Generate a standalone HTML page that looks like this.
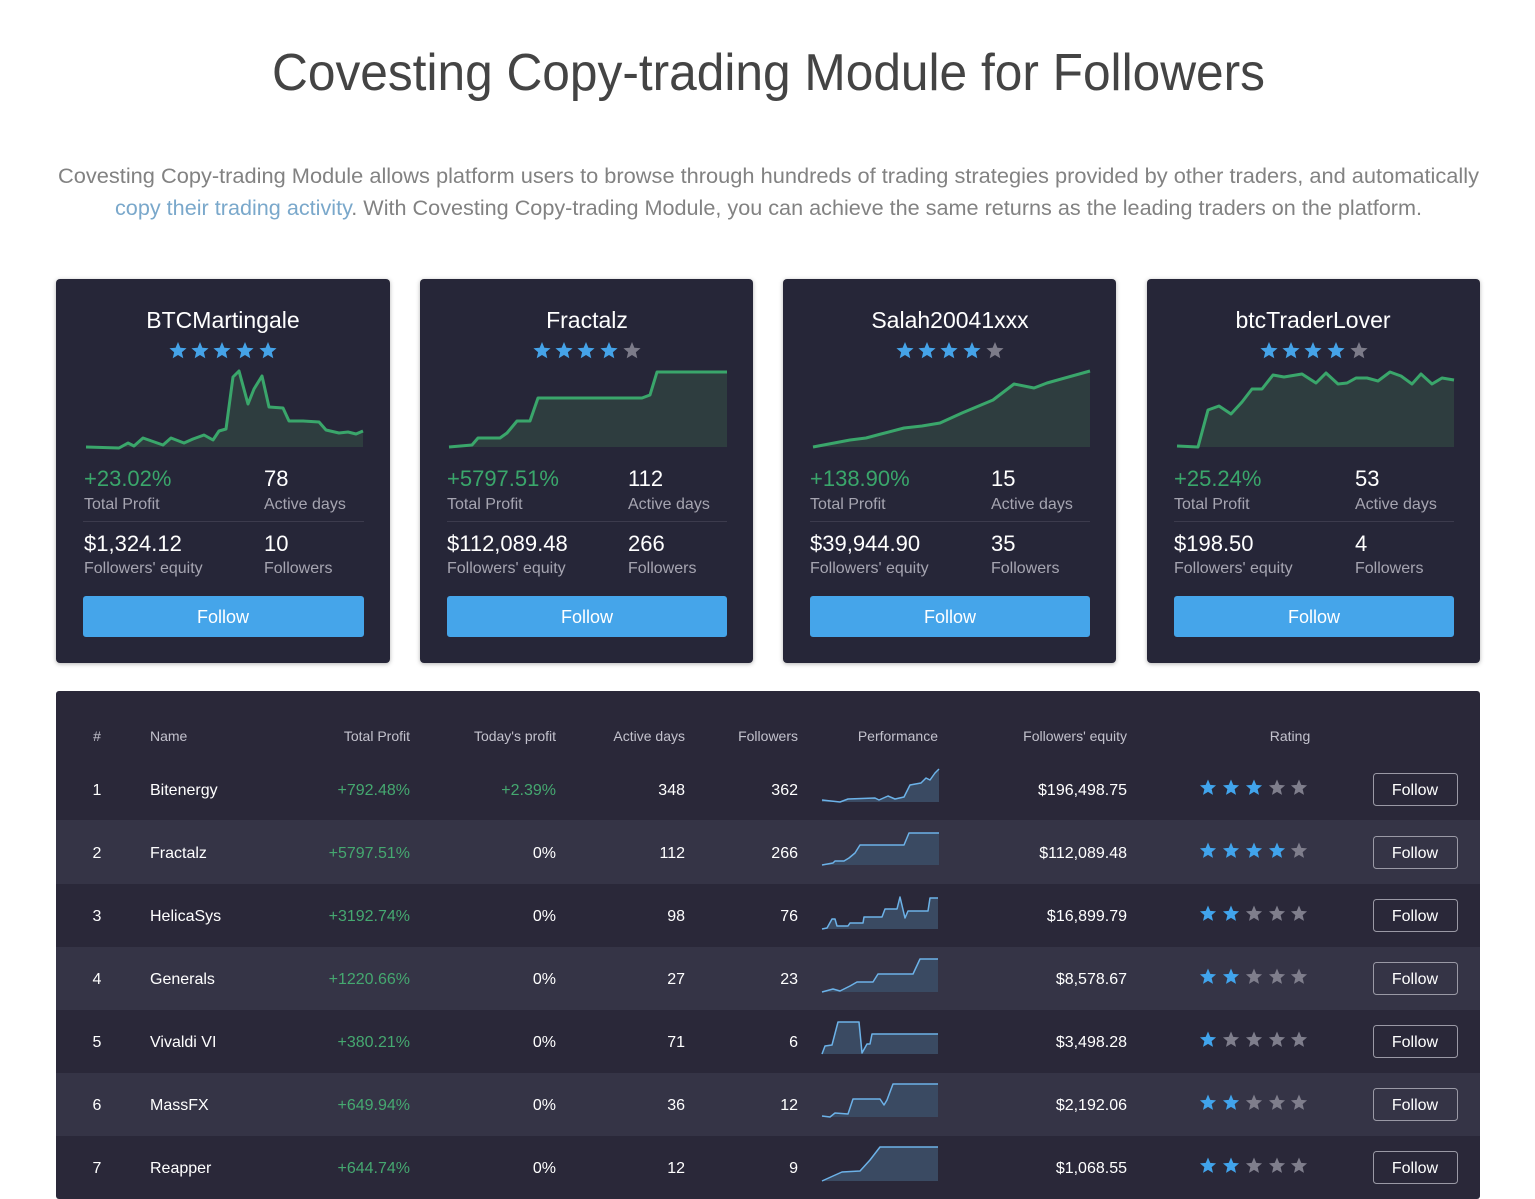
<!DOCTYPE html>
<html>
<head>
<meta charset="utf-8">
<style>
html,body{margin:0;padding:0;background:#fff;}
svg{display:block;}
text{font-family:"Liberation Sans",sans-serif;}
</style>
</head>
<body>
<svg width="1535" height="1199" viewBox="0 0 1535 1199" xmlns="http://www.w3.org/2000/svg">
<defs>
<polygon id="st" points="0,-1 0.2645,-0.364 0.951,-0.309 0.428,0.139 0.588,0.809 0,0.45 -0.588,0.809 -0.428,0.139 -0.951,-0.309 -0.2645,-0.364"/>
<filter id="sh" x="-5%" y="-5%" width="110%" height="110%">
<feDropShadow dx="0" dy="1" stdDeviation="2" flood-color="#000" flood-opacity="0.3"/>
</filter>
</defs>
<rect width="1535" height="1199" fill="#ffffff"/>

<!-- Title -->
<text x="272" y="90" font-size="52" textLength="993" lengthAdjust="spacingAndGlyphs" fill="#444444">Covesting Copy-trading Module for Followers</text>
<text x="58" y="183" font-size="21" textLength="1421" lengthAdjust="spacingAndGlyphs" fill="#828282">Covesting Copy-trading Module allows platform users to browse through hundreds of trading strategies provided by other traders, and automatically</text>
<text x="115" y="215" font-size="21" textLength="1307" lengthAdjust="spacingAndGlyphs" fill="#828282"><tspan fill="#7aa8cb">copy their trading activity</tspan>. With Covesting Copy-trading Module, you can achieve the same returns as the leading traders on the platform.</text>

<!-- Cards -->
<g filter="url(#sh)">
<rect x="56" y="279" width="334" height="384" rx="4" fill="#282737"/>
<rect x="420" y="279" width="333" height="384" rx="4" fill="#282737"/>
<rect x="783" y="279" width="333" height="384" rx="4" fill="#282737"/>
<rect x="1147" y="279" width="333" height="384" rx="4" fill="#282737"/>
</g>

<!-- Card names -->
<g font-size="23" fill="#ffffff" text-anchor="middle">
<text x="223" y="328">BTCMartingale</text>
<text x="587" y="328">Fractalz</text>
<text x="950" y="328">Salah20041xxx</text>
<text x="1313" y="328">btcTraderLover</text>
</g>

<!-- Card stars -->
<g>
<use href="#st" transform="translate(178,351) scale(9)" fill="#45a3e8"/>
<use href="#st" transform="translate(200,351) scale(9)" fill="#45a3e8"/>
<use href="#st" transform="translate(222,351) scale(9)" fill="#45a3e8"/>
<use href="#st" transform="translate(245,351) scale(9)" fill="#45a3e8"/>
<use href="#st" transform="translate(268,351) scale(9)" fill="#45a3e8"/>

<use href="#st" transform="translate(542,351) scale(9)" fill="#45a3e8"/>
<use href="#st" transform="translate(564,351) scale(9)" fill="#45a3e8"/>
<use href="#st" transform="translate(586,351) scale(9)" fill="#45a3e8"/>
<use href="#st" transform="translate(609,351) scale(9)" fill="#45a3e8"/>
<use href="#st" transform="translate(632,351) scale(9)" fill="#7c7b89"/>

<use href="#st" transform="translate(905,351) scale(9)" fill="#45a3e8"/>
<use href="#st" transform="translate(927,351) scale(9)" fill="#45a3e8"/>
<use href="#st" transform="translate(949,351) scale(9)" fill="#45a3e8"/>
<use href="#st" transform="translate(972,351) scale(9)" fill="#45a3e8"/>
<use href="#st" transform="translate(995,351) scale(9)" fill="#7c7b89"/>

<use href="#st" transform="translate(1269,351) scale(9)" fill="#45a3e8"/>
<use href="#st" transform="translate(1291,351) scale(9)" fill="#45a3e8"/>
<use href="#st" transform="translate(1313,351) scale(9)" fill="#45a3e8"/>
<use href="#st" transform="translate(1336,351) scale(9)" fill="#45a3e8"/>
<use href="#st" transform="translate(1359,351) scale(9)" fill="#7c7b89"/>
</g>

<!-- Card charts -->
<g fill="#2e3d3f" stroke="none">
<path d="M86,447 L119,448 L128,443 L134,446 L143,438 L163,445 L171,438 L184,443 L193,439 L204,435 L213,440 L219,431 L226,429 L233,377 L239,371 L248,404 L254,389 L262,376 L269,407 L283,408 L289,421 L303,421 L319,422 L326,430 L339,433 L348,432 L356,434 L363,431 L363,447 Z"/>
<path d="M449,447 L472,445 L478,438 L500,438 L507,433 L517,421 L530,421 L538,398 L642,398 L650,395 L657,372 L727,372 L727,447 Z"/>
<path d="M813,447 L850,440 L866,438 L881,434 L904,428 L922,426 L940,423 L962,413 L993,400 L1014,384 L1034,388 L1047,383 L1090,371 L1090,447 Z"/>
<path d="M1177,446 L1198,447 L1208,410 L1219,406 L1231,414 L1242,402 L1252,389 L1262,389 L1273,375 L1284,377 L1302,374 L1316,383 L1326,373 L1338,384 L1347,383 L1356,378 L1367,378 L1378,381 L1390,372 L1401,376 L1412,384 L1421,374 L1432,384 L1442,378 L1454,380 L1454,447 L1177,447 Z"/>
</g>
<g fill="none" stroke="#3aa66b" stroke-width="3" stroke-linejoin="round">
<path d="M86,447 L119,448 L128,443 L134,446 L143,438 L163,445 L171,438 L184,443 L193,439 L204,435 L213,440 L219,431 L226,429 L233,377 L239,371 L248,404 L254,389 L262,376 L269,407 L283,408 L289,421 L303,421 L319,422 L326,430 L339,433 L348,432 L356,434 L363,431"/>
<path d="M449,447 L472,445 L478,438 L500,438 L507,433 L517,421 L530,421 L538,398 L642,398 L650,395 L657,372 L727,372"/>
<path d="M813,447 L850,440 L866,438 L881,434 L904,428 L922,426 L940,423 L962,413 L993,400 L1014,384 L1034,388 L1047,383 L1090,371"/>
<path d="M1177,446 L1198,447 L1208,410 L1219,406 L1231,414 L1242,402 L1252,389 L1262,389 L1273,375 L1284,377 L1302,374 L1316,383 L1326,373 L1338,384 L1347,383 L1356,378 L1367,378 L1378,381 L1390,372 L1401,376 L1412,384 L1421,374 L1432,384 L1442,378 L1454,380"/>
</g>

<!-- Card stats -->
<g font-size="22">
<text x="84" y="486" fill="#3aa66b">+23.02%</text>
<text x="264" y="486" fill="#ffffff">78</text>
<text x="84" y="551" fill="#ffffff">$1,324.12</text>
<text x="264" y="551" fill="#ffffff">10</text>

<text x="447" y="486" fill="#3aa66b">+5797.51%</text>
<text x="628" y="486" fill="#ffffff">112</text>
<text x="447" y="551" fill="#ffffff">$112,089.48</text>
<text x="628" y="551" fill="#ffffff">266</text>

<text x="810" y="486" fill="#3aa66b">+138.90%</text>
<text x="991" y="486" fill="#ffffff">15</text>
<text x="810" y="551" fill="#ffffff">$39,944.90</text>
<text x="991" y="551" fill="#ffffff">35</text>

<text x="1174" y="486" fill="#3aa66b">+25.24%</text>
<text x="1355" y="486" fill="#ffffff">53</text>
<text x="1174" y="551" fill="#ffffff">$198.50</text>
<text x="1355" y="551" fill="#ffffff">4</text>
</g>
<g font-size="16" fill="#a6a5b1">
<text x="84" y="509">Total Profit</text>
<text x="264" y="509">Active days</text>
<text x="84" y="573">Followers' equity</text>
<text x="264" y="573">Followers</text>

<text x="447" y="509">Total Profit</text>
<text x="628" y="509">Active days</text>
<text x="447" y="573">Followers' equity</text>
<text x="628" y="573">Followers</text>

<text x="810" y="509">Total Profit</text>
<text x="991" y="509">Active days</text>
<text x="810" y="573">Followers' equity</text>
<text x="991" y="573">Followers</text>

<text x="1174" y="509">Total Profit</text>
<text x="1355" y="509">Active days</text>
<text x="1174" y="573">Followers' equity</text>
<text x="1355" y="573">Followers</text>
</g>
<g fill="#3c3b4d">
<rect x="83" y="521" width="281" height="1"/>
<rect x="447" y="521" width="280" height="1"/>
<rect x="810" y="521" width="280" height="1"/>
<rect x="1174" y="521" width="280" height="1"/>
</g>
<!-- Card buttons -->
<g fill="#45a5ea">
<rect x="83" y="596" width="281" height="41" rx="3"/>
<rect x="447" y="596" width="280" height="41" rx="3"/>
<rect x="810" y="596" width="280" height="41" rx="3"/>
<rect x="1174" y="596" width="280" height="41" rx="3"/>
</g>
<g font-size="18" fill="#ffffff" text-anchor="middle">
<text x="223" y="623">Follow</text>
<text x="587" y="623">Follow</text>
<text x="950" y="623">Follow</text>
<text x="1314" y="623">Follow</text>
</g>

<!-- Table -->
<rect x="56" y="691" width="1424" height="508" rx="3" fill="#2a2839"/>
<rect x="56" y="820" width="1424" height="64" fill="#353446"/>
<rect x="56" y="947" width="1424" height="63" fill="#353446"/>
<rect x="56" y="1073" width="1424" height="63" fill="#353446"/>

<g font-size="14" fill="#c3c2cd">
<text x="97" y="741" text-anchor="middle">#</text>
<text x="150" y="741">Name</text>
<text x="410" y="741" text-anchor="end">Total Profit</text>
<text x="556" y="741" text-anchor="end">Today's profit</text>
<text x="685" y="741" text-anchor="end">Active days</text>
<text x="798" y="741" text-anchor="end">Followers</text>
<text x="938" y="741" text-anchor="end">Performance</text>
<text x="1127" y="741" text-anchor="end">Followers' equity</text>
<text x="1290" y="741" text-anchor="middle">Rating</text>
</g>

<!-- Sparklines -->
<g fill="#3a4a62" stroke="none">
<path d="M822,800 L840,802 L848,799 L875,798 L879,800 L888,796 L895,799 L904,797 L910,785 L921,783 L926,778 L930,780 L935,773 L939,769 L939,802 L822,802 Z"/>
<path d="M822,865 L833,863 L835,861 L844,861 L849,858 L855,853 L860,845 L904,845 L909,833 L939,833 L939,865 Z"/>
<path d="M822,929 L827,928 L832,919 L835,919 L837,926 L848,926 L850,923 L863,923 L864,917 L882,917 L885,909 L897,909 L900,897 L905,918 L908,911 L928,911 L930,898 L938,898 L938,929 Z"/>
<path d="M822,992 L833,989 L840,991 L850,986 L857,982 L873,982 L878,974 L913,974 L920,959 L938,959 L938,992 Z"/>
<path d="M822,1054 L825,1046 L832,1045 L838,1022 L859,1022 L862,1053 L867,1044 L870,1044 L872,1034 L938,1034 L938,1054 Z"/>
<path d="M822,1116 L830,1117 L835,1113 L848,1114 L853,1099 L880,1099 L884,1105 L887,1100 L893,1084 L938,1084 L938,1117 L822,1117 Z"/>
<path d="M822,1181 L833,1176 L842,1172 L860,1171 L870,1160 L880,1147 L938,1147 L938,1181 Z"/>
</g>
<g fill="none" stroke="#6cb2e8" stroke-width="1.5" stroke-linejoin="round">
<path d="M822,800 L840,802 L848,799 L875,798 L879,800 L888,796 L895,799 L904,797 L910,785 L921,783 L926,778 L930,780 L935,773 L939,769"/>
<path d="M822,865 L833,863 L835,861 L844,861 L849,858 L855,853 L860,845 L904,845 L909,833 L939,833"/>
<path d="M822,929 L827,928 L832,919 L835,919 L837,926 L848,926 L850,923 L863,923 L864,917 L882,917 L885,909 L897,909 L900,897 L905,918 L908,911 L928,911 L930,898 L938,898"/>
<path d="M822,992 L833,989 L840,991 L850,986 L857,982 L873,982 L878,974 L913,974 L920,959 L938,959"/>
<path d="M822,1054 L825,1046 L832,1045 L838,1022 L859,1022 L862,1053 L867,1044 L870,1044 L872,1034 L938,1034"/>
<path d="M822,1116 L830,1117 L835,1113 L848,1114 L853,1099 L880,1099 L884,1105 L887,1100 L893,1084 L938,1084"/>
<path d="M822,1181 L833,1176 L842,1172 L860,1171 L870,1160 L880,1147 L938,1147"/>
</g>

<!-- Rows text -->
<g font-size="16" fill="#ffffff">
<text x="97" y="795" text-anchor="middle">1</text>
<text x="150" y="795">Bitenergy</text>
<text x="410" y="795" text-anchor="end" fill="#45a870">+792.48%</text>
<text x="556" y="795" text-anchor="end" fill="#45a870">+2.39%</text>
<text x="685" y="795" text-anchor="end">348</text>
<text x="798" y="795" text-anchor="end">362</text>
<text x="1127" y="795" text-anchor="end">$196,498.75</text>

<text x="97" y="858" text-anchor="middle">2</text>
<text x="150" y="858">Fractalz</text>
<text x="410" y="858" text-anchor="end" fill="#45a870">+5797.51%</text>
<text x="556" y="858" text-anchor="end">0%</text>
<text x="685" y="858" text-anchor="end">112</text>
<text x="798" y="858" text-anchor="end">266</text>
<text x="1127" y="858" text-anchor="end">$112,089.48</text>

<text x="97" y="921" text-anchor="middle">3</text>
<text x="150" y="921">HelicaSys</text>
<text x="410" y="921" text-anchor="end" fill="#45a870">+3192.74%</text>
<text x="556" y="921" text-anchor="end">0%</text>
<text x="685" y="921" text-anchor="end">98</text>
<text x="798" y="921" text-anchor="end">76</text>
<text x="1127" y="921" text-anchor="end">$16,899.79</text>

<text x="97" y="984" text-anchor="middle">4</text>
<text x="150" y="984">Generals</text>
<text x="410" y="984" text-anchor="end" fill="#45a870">+1220.66%</text>
<text x="556" y="984" text-anchor="end">0%</text>
<text x="685" y="984" text-anchor="end">27</text>
<text x="798" y="984" text-anchor="end">23</text>
<text x="1127" y="984" text-anchor="end">$8,578.67</text>

<text x="97" y="1047" text-anchor="middle">5</text>
<text x="150" y="1047">Vivaldi VI</text>
<text x="410" y="1047" text-anchor="end" fill="#45a870">+380.21%</text>
<text x="556" y="1047" text-anchor="end">0%</text>
<text x="685" y="1047" text-anchor="end">71</text>
<text x="798" y="1047" text-anchor="end">6</text>
<text x="1127" y="1047" text-anchor="end">$3,498.28</text>

<text x="97" y="1110" text-anchor="middle">6</text>
<text x="150" y="1110">MassFX</text>
<text x="410" y="1110" text-anchor="end" fill="#45a870">+649.94%</text>
<text x="556" y="1110" text-anchor="end">0%</text>
<text x="685" y="1110" text-anchor="end">36</text>
<text x="798" y="1110" text-anchor="end">12</text>
<text x="1127" y="1110" text-anchor="end">$2,192.06</text>

<text x="97" y="1173" text-anchor="middle">7</text>
<text x="150" y="1173">Reapper</text>
<text x="410" y="1173" text-anchor="end" fill="#45a870">+644.74%</text>
<text x="556" y="1173" text-anchor="end">0%</text>
<text x="685" y="1173" text-anchor="end">12</text>
<text x="798" y="1173" text-anchor="end">9</text>
<text x="1127" y="1173" text-anchor="end">$1,068.55</text>
</g>

<!-- Table stars -->
<g>
<use href="#st" transform="translate(1208,788) scale(8.5)" fill="#41a4ec"/>
<use href="#st" transform="translate(1231,788) scale(8.5)" fill="#41a4ec"/>
<use href="#st" transform="translate(1254,788) scale(8.5)" fill="#41a4ec"/>
<use href="#st" transform="translate(1277,788) scale(8.5)" fill="#7f7e8c"/>
<use href="#st" transform="translate(1299,788) scale(8.5)" fill="#7f7e8c"/>

<use href="#st" transform="translate(1208,851) scale(8.5)" fill="#41a4ec"/>
<use href="#st" transform="translate(1231,851) scale(8.5)" fill="#41a4ec"/>
<use href="#st" transform="translate(1254,851) scale(8.5)" fill="#41a4ec"/>
<use href="#st" transform="translate(1277,851) scale(8.5)" fill="#41a4ec"/>
<use href="#st" transform="translate(1299,851) scale(8.5)" fill="#7f7e8c"/>

<use href="#st" transform="translate(1208,914) scale(8.5)" fill="#41a4ec"/>
<use href="#st" transform="translate(1231,914) scale(8.5)" fill="#41a4ec"/>
<use href="#st" transform="translate(1254,914) scale(8.5)" fill="#7f7e8c"/>
<use href="#st" transform="translate(1277,914) scale(8.5)" fill="#7f7e8c"/>
<use href="#st" transform="translate(1299,914) scale(8.5)" fill="#7f7e8c"/>

<use href="#st" transform="translate(1208,977) scale(8.5)" fill="#41a4ec"/>
<use href="#st" transform="translate(1231,977) scale(8.5)" fill="#41a4ec"/>
<use href="#st" transform="translate(1254,977) scale(8.5)" fill="#7f7e8c"/>
<use href="#st" transform="translate(1277,977) scale(8.5)" fill="#7f7e8c"/>
<use href="#st" transform="translate(1299,977) scale(8.5)" fill="#7f7e8c"/>

<use href="#st" transform="translate(1208,1040) scale(8.5)" fill="#41a4ec"/>
<use href="#st" transform="translate(1231,1040) scale(8.5)" fill="#7f7e8c"/>
<use href="#st" transform="translate(1254,1040) scale(8.5)" fill="#7f7e8c"/>
<use href="#st" transform="translate(1277,1040) scale(8.5)" fill="#7f7e8c"/>
<use href="#st" transform="translate(1299,1040) scale(8.5)" fill="#7f7e8c"/>

<use href="#st" transform="translate(1208,1103) scale(8.5)" fill="#41a4ec"/>
<use href="#st" transform="translate(1231,1103) scale(8.5)" fill="#41a4ec"/>
<use href="#st" transform="translate(1254,1103) scale(8.5)" fill="#7f7e8c"/>
<use href="#st" transform="translate(1277,1103) scale(8.5)" fill="#7f7e8c"/>
<use href="#st" transform="translate(1299,1103) scale(8.5)" fill="#7f7e8c"/>

<use href="#st" transform="translate(1208,1166) scale(8.5)" fill="#41a4ec"/>
<use href="#st" transform="translate(1231,1166) scale(8.5)" fill="#41a4ec"/>
<use href="#st" transform="translate(1254,1166) scale(8.5)" fill="#7f7e8c"/>
<use href="#st" transform="translate(1277,1166) scale(8.5)" fill="#7f7e8c"/>
<use href="#st" transform="translate(1299,1166) scale(8.5)" fill="#7f7e8c"/>
</g>

<!-- Table follow buttons -->
<g fill="none" stroke="#9a99a5" stroke-width="1">
<rect x="1373.5" y="773.5" width="84" height="32" rx="3"/>
<rect x="1373.5" y="836.5" width="84" height="32" rx="3"/>
<rect x="1373.5" y="899.5" width="84" height="32" rx="3"/>
<rect x="1373.5" y="962.5" width="84" height="32" rx="3"/>
<rect x="1373.5" y="1025.5" width="84" height="32" rx="3"/>
<rect x="1373.5" y="1088.5" width="84" height="32" rx="3"/>
<rect x="1373.5" y="1151.5" width="84" height="32" rx="3"/>
</g>
<g font-size="16" fill="#ffffff" text-anchor="middle">
<text x="1415" y="795">Follow</text>
<text x="1415" y="858">Follow</text>
<text x="1415" y="921">Follow</text>
<text x="1415" y="984">Follow</text>
<text x="1415" y="1047">Follow</text>
<text x="1415" y="1110">Follow</text>
<text x="1415" y="1173">Follow</text>
</g>
</svg>
</body>
</html>
